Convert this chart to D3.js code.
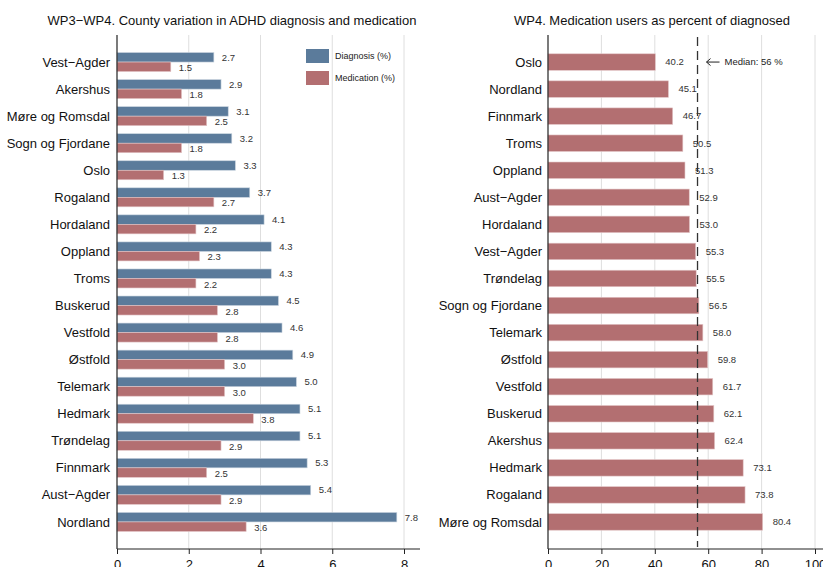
<!DOCTYPE html>
<html>
<head>
<meta charset="utf-8">
<title>ADHD county variation</title>
<style>
  body { margin: 0; background: #fff; }
  text { font-family: "Liberation Sans", Arial, sans-serif; }
</style>
</head>
<body>
<script src="https://d3js.org/d3.v7.min.js"></script>
<script>
// left panel data
var counties = ["Vest\u2212Agder", "Akershus", "M\u00f8re og Romsdal", "Sogn og Fjordane", "Oslo", "Rogaland",
  "Hordaland", "Oppland", "Troms", "Buskerud", "Vestfold", "\u00d8stfold", "Telemark", "Hedmark",
  "Tr\u00f8ndelag", "Finnmark", "Aust\u2212Agder", "Nordland"];
var diagnosis = [2.7, 2.9, 3.1, 3.2, 3.3, 3.7, 4.1, 4.3, 4.3, 4.5, 4.6, 4.9, 5.0, 5.1, 5.1, 5.3, 5.4, 7.8];
var medication = [1.5, 1.8, 2.5, 1.8, 1.3, 2.7, 2.2, 2.3, 2.2, 2.8, 2.8, 3.0, 3.0, 3.8, 2.9, 2.5, 2.9, 3.6];
var leftTicks = [0, 2, 4, 6, 8];

// right panel data
var counties2 = ["Oslo", "Nordland", "Finnmark", "Troms", "Oppland", "Aust\u2212Agder", "Hordaland", "Vest\u2212Agder",
  "Tr\u00f8ndelag", "Sogn og Fjordane", "Telemark", "\u00d8stfold", "Vestfold", "Buskerud", "Akershus",
  "Hedmark", "Rogaland", "M\u00f8re og Romsdal"];
var medShare = [40.2, 45.1, 46.7, 50.5, 51.3, 52.9, 53.0, 55.3, 55.5, 56.5, 58.0, 59.8, 61.7, 62.1, 62.4, 73.1, 73.8, 80.4];
var rightTicks = [0, 20, 40, 60, 80, 100];
var median = 56;

var blue = "#5b7b9b", red = "#b36f71";

var svg = d3.select("body").append("svg")
    .attr("width", 823).attr("height", 567);

var plotTop = 35, plotBottom = 549;

// ---------- left panel ----------
var x1 = d3.scaleLinear().domain([0, 8]).range([117, 404]);
var y1 = d3.scalePoint().domain(counties).range([plotTop, plotBottom]).padding(1);
var bh = 9.5;

var left = svg.append("g");

left.selectAll(".grid").data(leftTicks.slice(1)).enter().append("line")
    .attr("x1", d => x1(d)).attr("x2", d => x1(d))
    .attr("y1", plotTop).attr("y2", plotBottom)
    .attr("stroke", "#dedede").attr("stroke-width", 1);

var rows = left.selectAll(".row").data(counties).enter().append("g")
    .attr("transform", d => "translate(0," + y1(d) + ")");

rows.append("rect")
    .attr("x", x1(0)).attr("y", -bh)
    .attr("width", (d, i) => x1(diagnosis[i]) - x1(0)).attr("height", bh)
    .attr("fill", blue).attr("stroke", "#c8d3de").attr("stroke-width", 0.6);
rows.append("rect")
    .attr("x", x1(0)).attr("y", 0)
    .attr("width", (d, i) => x1(medication[i]) - x1(0)).attr("height", bh)
    .attr("fill", red).attr("stroke", "#e3c6c7").attr("stroke-width", 0.6);

rows.append("text")
    .attr("x", (d, i) => x1(diagnosis[i]) + 8).attr("y", -bh / 2)
    .attr("dy", "0.35em").attr("font-size", 9.5).attr("fill", "#333")
    .text((d, i) => diagnosis[i].toFixed(1));
rows.append("text")
    .attr("x", (d, i) => x1(medication[i]) + 8).attr("y", bh / 2 + 1)
    .attr("dy", "0.35em").attr("font-size", 9.5).attr("fill", "#333")
    .text((d, i) => medication[i].toFixed(1));

rows.append("text")
    .attr("x", 110).attr("y", 0).attr("dy", "0.35em")
    .attr("text-anchor", "end").attr("font-size", 13).attr("fill", "#111")
    .text(d => d);

left.append("line").attr("x1", x1(0)).attr("x2", x1(0)).attr("y1", plotTop).attr("y2", plotBottom)
    .attr("stroke", "#222").attr("stroke-width", 1.2);
left.append("g")
    .attr("transform", "translate(0," + plotBottom + ")")
    .call(d3.axisBottom(x1).tickValues(leftTicks).tickSize(5).tickSizeOuter(0))
    .call(g => g.select(".domain").attr("stroke", "#222").attr("stroke-width", 1.2).attr("d", "M" + x1(0) + ",0H420"))
    .call(g => g.selectAll(".tick line").attr("stroke", "#222"))
    .call(g => g.selectAll(".tick text").attr("font-size", 13).attr("fill", "#111").attr("dy", "0.9em")
        .attr("font-family", "Liberation Sans, Arial, sans-serif"));

left.append("text").attr("x", 232).attr("y", 25).attr("text-anchor", "middle")
    .attr("font-size", 13).attr("fill", "#111")
    .text("WP3\u2212WP4. County variation in ADHD diagnosis and medication");

// legend
var legend = left.append("g").attr("transform", "translate(306,49)");
[["Diagnosis (%)", blue], ["Medication (%)", red]].forEach(function (d, i) {
  legend.append("rect").attr("x", 0).attr("y", i * 22).attr("width", 23).attr("height", 14)
      .attr("fill", d[1]);
  legend.append("text").attr("x", 29).attr("y", i * 22 + 7).attr("dy", "0.35em")
      .attr("font-size", 9).attr("fill", "#222").text(d[0]);
});

// ---------- right panel ----------
var x2 = d3.scaleLinear().domain([0, 100]).range([548, 815]);
var y2 = d3.scalePoint().domain(counties2).range([plotTop, plotBottom]).padding(1);
var bh2 = 16.5;

var right = svg.append("g");

right.selectAll(".grid").data(rightTicks.slice(1)).enter().append("line")
    .attr("x1", d => x2(d)).attr("x2", d => x2(d))
    .attr("y1", plotTop).attr("y2", plotBottom)
    .attr("stroke", "#dedede").attr("stroke-width", 1);

var rows2 = right.selectAll(".row").data(counties2).enter().append("g")
    .attr("transform", d => "translate(0," + y2(d) + ")");

rows2.append("rect")
    .attr("x", x2(0)).attr("y", -bh2 / 2)
    .attr("width", (d, i) => x2(medShare[i]) - x2(0)).attr("height", bh2)
    .attr("fill", red).attr("stroke", "#e3c6c7").attr("stroke-width", 0.6);

rows2.append("text")
    .attr("x", (d, i) => x2(medShare[i]) + 10).attr("y", 0).attr("dy", "0.35em")
    .attr("font-size", 9.5).attr("fill", "#333")
    .text((d, i) => medShare[i].toFixed(1));

rows2.append("text")
    .attr("x", 542).attr("y", 0).attr("dy", "0.35em")
    .attr("text-anchor", "end").attr("font-size", 13).attr("fill", "#111")
    .text(d => d);

right.append("line")
    .attr("x1", x2(median)).attr("x2", x2(median))
    .attr("y1", plotTop + 2).attr("y2", plotBottom - 2)
    .attr("stroke", "#333").attr("stroke-width", 1.3).attr("stroke-dasharray", "9,5");

// median annotation: arrow pointing at the line, then the label
var ay = y2(counties2[0]);
var ax = x2(median) + 9;
right.append("path")
    .attr("d", "M" + (ax + 13) + "," + ay + "H" + ax + "M" + (ax + 4) + "," + (ay - 3.5) + "L" + ax + "," + ay + "L" + (ax + 4) + "," + (ay + 3.5))
    .attr("fill", "none").attr("stroke", "#222").attr("stroke-width", 1);
right.append("text").attr("x", ax + 18).attr("y", ay).attr("dy", "0.35em")
    .attr("font-size", 9.5).attr("fill", "#222").text("Median: " + median + " %");

right.append("line").attr("x1", x2(0)).attr("x2", x2(0)).attr("y1", plotTop).attr("y2", plotBottom)
    .attr("stroke", "#222").attr("stroke-width", 1.2);
right.append("g")
    .attr("transform", "translate(0," + plotBottom + ")")
    .call(d3.axisBottom(x2).tickValues(rightTicks).tickSize(5).tickSizeOuter(0))
    .call(g => g.select(".domain").attr("stroke", "#222").attr("stroke-width", 1.2).attr("d", "M" + x2(0) + ",0H823"))
    .call(g => g.selectAll(".tick line").attr("stroke", "#222"))
    .call(g => g.selectAll(".tick text").attr("font-size", 13).attr("fill", "#111").attr("dy", "0.9em")
        .attr("font-family", "Liberation Sans, Arial, sans-serif"));

right.append("text").attr("x", 652).attr("y", 25).attr("text-anchor", "middle")
    .attr("font-size", 13).attr("fill", "#111")
    .text("WP4. Medication users as percent of diagnosed");
</script>
</body>
</html>
